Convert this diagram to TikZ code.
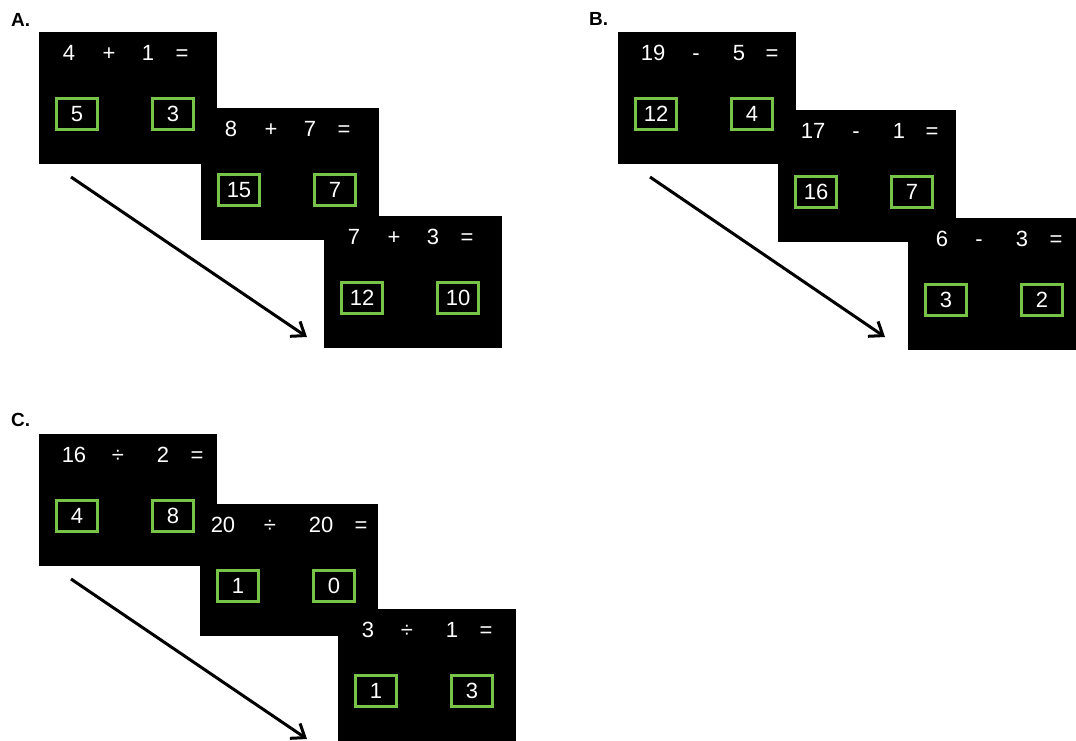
\documentclass[tikz,border=0pt]{standalone}
\usepackage{fontspec}
\setmainfont{Liberation Sans}
\usetikzlibrary{arrows.meta}
\definecolor{boxgreen}{RGB}{120,196,72}
\newcommand\mkscreen[6]{%
  \node[screen] (#1) at (#2,#3) {};
  \node[ansbox] (#1-l) at ([shift={(38,82)}]#1.north west) {#4};
  \node[ansbox] (#1-r) at ([shift={(134,82)}]#1.north west) {#5};
  \foreach \tok/\dx [count=\i] in {#6} {
    \node[eq] (#1-t\i) at ([shift={(\dx,28)}]#1.north west) {\tok};
  }%
}
\begin{document}
\begin{tikzpicture}[x=1pt,y=-1pt,
  screen/.style={fill=black, inner sep=0pt, minimum width=178pt, minimum height=132pt, anchor=north west},
  eq/.style={text=white, font=\fontsize{22}{22}\selectfont, inner sep=0pt, anchor=base},
  ansbox/.style={draw=boxgreen, line width=3pt, minimum width=41pt, minimum height=31pt, inner sep=0pt, text=white, font=\fontsize{22}{22}\selectfont},
  panel/.style={font=\bfseries\fontsize{19}{19}\selectfont, anchor=base west, inner sep=0pt},
  flow/.style={line width=3pt, -{Straight Barb[length=12pt,width=18pt,line width=3pt]}}
]
\useasboundingbox (0,0) rectangle (1076,740);

% Panel A
\node[panel] (labA) at (11,26) {A.};
\mkscreen{A1}{39}{32}{5}{3}{4/30, +/70, 1/109, =/143}
\mkscreen{A2}{201}{108}{15}{7}{8/30, +/70, 7/109, =/143}
\mkscreen{A3}{324}{216}{12}{10}{7/30, +/70, 3/109, =/143}
\coordinate (aS) at (71,177);
\coordinate (aE) at (307,337);
\draw[flow] (aS) -- (aE);

% Panel B
\node[panel] (labB) at (589,25) {B.};
\mkscreen{B1}{618}{32}{12}{4}{19/35, -/78, 5/121, =/154}
\mkscreen{B2}{778}{110}{16}{7}{17/35, -/78, 1/121, =/154}
\mkscreen{B3}{908}{218}{3}{2}{6/34, -/71, 3/114, =/148}
\coordinate (bS) at (650,177);
\coordinate (bE) at (885,337);
\draw[flow] (bS) -- (bE);

% Panel C
\node[panel] (labC) at (11,426) {C.};
\mkscreen{C1}{39}{434}{4}{8}{16/35, ÷/79, 2/124, =/158}
\mkscreen{C2}{200}{504}{1}{0}{20/23, ÷/70, 20/121, =/161}
\mkscreen{C3}{338}{609}{1}{3}{3/30, ÷/69, 1/114, =/148}
\coordinate (cS) at (71,579);
\coordinate (cE) at (307,739);
\draw[flow] (cS) -- (cE);
\end{tikzpicture}
\end{document}
